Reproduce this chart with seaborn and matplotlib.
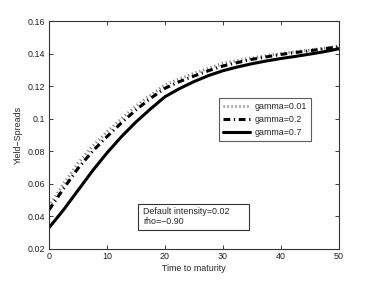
import numpy as np
import pandas as pd
import matplotlib
matplotlib.use("Agg")
import matplotlib.pyplot as plt
from matplotlib.patches import Rectangle
import seaborn as sns

# time to maturity grid and yield spreads
t = [0, 2.5, 5, 7.5, 10, 12.5, 15, 17.5, 20, 22.5, 25, 27.5, 30,
     32.5, 35, 37.5, 40, 42.5, 45, 47.5, 50]
ys_001 = [0.046, 0.060, 0.0726, 0.083, 0.092, 0.100, 0.1078, 0.1145, 0.1207,
          0.1245, 0.1279, 0.1310, 0.1340, 0.1358, 0.1373, 0.1388, 0.1400,
          0.1412, 0.1422, 0.1433, 0.1445]
ys_02 = [0.044, 0.057, 0.0695, 0.080, 0.089, 0.0975, 0.1054, 0.1125, 0.1187,
         0.1228, 0.1262, 0.1295, 0.1324, 0.1345, 0.1365, 0.1380, 0.1395,
         0.1407, 0.1418, 0.1430, 0.1442]
ys_07 = [0.033, 0.044, 0.056, 0.068, 0.079, 0.089, 0.098, 0.106, 0.1135,
         0.1185, 0.1228, 0.1265, 0.1295, 0.1318, 0.1338, 0.1355, 0.1370,
         0.1383, 0.1397, 0.1412, 0.1430]
labels = ["gamma=0.01", "gamma=0.2", "gamma=0.7"]

sns.set_style("ticks")
plt.rcParams['font.family'] = ['Liberation Sans', 'DejaVu Sans']
fs = 6.4

fig = plt.figure(figsize=(3.74, 2.81), dpi=100)
ax = fig.add_axes([0.131, 0.114, 0.775, 0.811])

sns.lineplot(x=t, y=ys_001, ax=ax, color='#888888', linewidth=2.2,
             linestyle=(0, (0.4, 0.9)), label=labels[0])
sns.lineplot(x=t, y=ys_02, ax=ax, color='black', linewidth=2.2,
             linestyle=(0, (2.2, 1.2, 0.4, 1.2)), label=labels[1])
sns.lineplot(x=t, y=ys_07, ax=ax, color='black', linewidth=2.2,
             linestyle='-', label=labels[2])

ax.set_xlim(0, 50)
ax.set_ylim(0.02, 0.16)
ax.set_xticks([0, 10, 20, 30, 40, 50])
ax.set_yticks([0.02, 0.04, 0.06, 0.08, 0.1, 0.12, 0.14, 0.16])
ax.set_yticklabels(['0.02', '0.04', '0.06', '0.08', '0.1', '0.12', '0.14', '0.16'])
ax.tick_params(direction='in', top=True, right=True, labelsize=fs,
               length=3, width=0.6, colors='#222222', pad=2.5)
for s in ax.spines.values():
    s.set_visible(True)
    s.set_linewidth(0.8)
    s.set_color('#333333')

ax.set_xlabel('Time to maturity', fontsize=fs, labelpad=1.5)
ax.set_ylabel('Yield\u2212Spreads', fontsize=fs, labelpad=4)

leg = ax.legend(loc='upper left', bbox_to_anchor=(0.586, 0.662), fontsize=fs,
                frameon=True, fancybox=False, handlelength=3.1,
                borderpad=0.45, labelspacing=0.45, handletextpad=0.45,
                borderaxespad=0)
leg.get_frame().set_edgecolor('#333333')
leg.get_frame().set_linewidth(0.8)

# annotation box
ax.add_patch(Rectangle((0.307, 0.083), 0.383, 0.114, transform=ax.transAxes,
                       facecolor='white', edgecolor='#333333', linewidth=0.8,
                       zorder=5))
ax.text(0.324, 0.143, 'Default intensity=0.02\nrho=\u22120.90', transform=ax.transAxes,
        fontsize=fs, va='center', ha='left', linespacing=1.25, zorder=6)

fig.savefig('out.png', dpi=100)
